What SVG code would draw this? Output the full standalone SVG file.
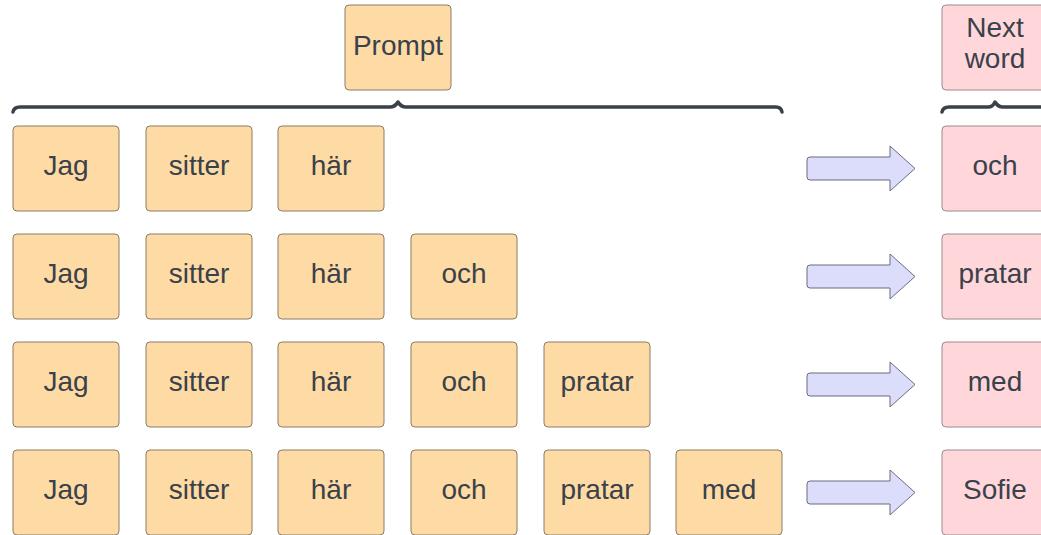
<svg xmlns="http://www.w3.org/2000/svg" width="1041" height="535" viewBox="0 0 1041 535">
<style>
.w{fill:#fedba5;stroke:#8a7c66;stroke-width:1}
.n{fill:#ffd7da;stroke:#9a8c8e;stroke-width:1}
.t{font-family:"Liberation Sans",Arial,sans-serif;font-size:28px;fill:#3a414a;text-anchor:middle}
.br{fill:none;stroke:#3a414a;stroke-width:3.5;stroke-linejoin:round;stroke-linecap:round}
.ar{fill:#dcdcfb;stroke:#6b6b80;stroke-width:1;stroke-linejoin:round}
</style>
<defs>
<rect id="box" width="106" height="85" rx="4"/>
<path id="arrow" d="M810,157 H890 V146 L915,168.5 L890,191 V180 H810 Q807,180 807,177 V160 Q807,157 810,157 Z"/>
</defs>
<rect width="1041" height="535" fill="#ffffff"/>

<g id="prompt">
<use href="#box" x="345" y="5" class="w"/>
<text class="t" x="398" y="55">Prompt</text>
</g>
<g id="nextword">
<use href="#box" x="942" y="5" class="n"/>
<text class="t" x="995" y="37">Next</text>
<text class="t" x="995" y="68">word</text>
</g>
<g id="braces">
<path class="br" d="M13,112 Q14,107 20,107 H390 Q395,107 398,102 Q401,107 406,107 H776 Q781,107 782,112"/>
<path class="br" d="M942,112 Q943,107 949,107 H988 Q993,107 995,102 Q998,107 1003,107 H1045"/>
</g>

<g id="row1">
<use href="#box" x="13" y="126" class="w"/><text class="t" x="66" y="175">Jag</text>
<use href="#box" x="146" y="126" class="w"/><text class="t" x="199" y="175">sitter</text>
<use href="#box" x="278" y="126" class="w"/><text class="t" x="331" y="175">här</text>
<use href="#box" x="942" y="126" class="n"/><text class="t" x="995" y="175">och</text>
</g>
<g id="row2">
<use href="#box" x="13" y="234" class="w"/><text class="t" x="66" y="283">Jag</text>
<use href="#box" x="146" y="234" class="w"/><text class="t" x="199" y="283">sitter</text>
<use href="#box" x="278" y="234" class="w"/><text class="t" x="331" y="283">här</text>
<use href="#box" x="411" y="234" class="w"/><text class="t" x="464" y="283">och</text>
<use href="#box" x="942" y="234" class="n"/><text class="t" x="995" y="283">pratar</text>
</g>
<g id="row3">
<use href="#box" x="13" y="342" class="w"/><text class="t" x="66" y="391">Jag</text>
<use href="#box" x="146" y="342" class="w"/><text class="t" x="199" y="391">sitter</text>
<use href="#box" x="278" y="342" class="w"/><text class="t" x="331" y="391">här</text>
<use href="#box" x="411" y="342" class="w"/><text class="t" x="464" y="391">och</text>
<use href="#box" x="544" y="342" class="w"/><text class="t" x="597" y="391">pratar</text>
<use href="#box" x="942" y="342" class="n"/><text class="t" x="995" y="391">med</text>
</g>
<g id="row4">
<use href="#box" x="13" y="450" class="w"/><text class="t" x="66" y="499">Jag</text>
<use href="#box" x="146" y="450" class="w"/><text class="t" x="199" y="499">sitter</text>
<use href="#box" x="278" y="450" class="w"/><text class="t" x="331" y="499">här</text>
<use href="#box" x="411" y="450" class="w"/><text class="t" x="464" y="499">och</text>
<use href="#box" x="544" y="450" class="w"/><text class="t" x="597" y="499">pratar</text>
<use href="#box" x="676" y="450" class="w"/><text class="t" x="729" y="499">med</text>
<use href="#box" x="942" y="450" class="n"/><text class="t" x="995" y="499">Sofie</text>
</g>

<g id="connectors">
<use href="#arrow" class="ar"/>
<use href="#arrow" class="ar" y="108"/>
<use href="#arrow" class="ar" y="216"/>
<use href="#arrow" class="ar" y="324"/>
</g>
</svg>
